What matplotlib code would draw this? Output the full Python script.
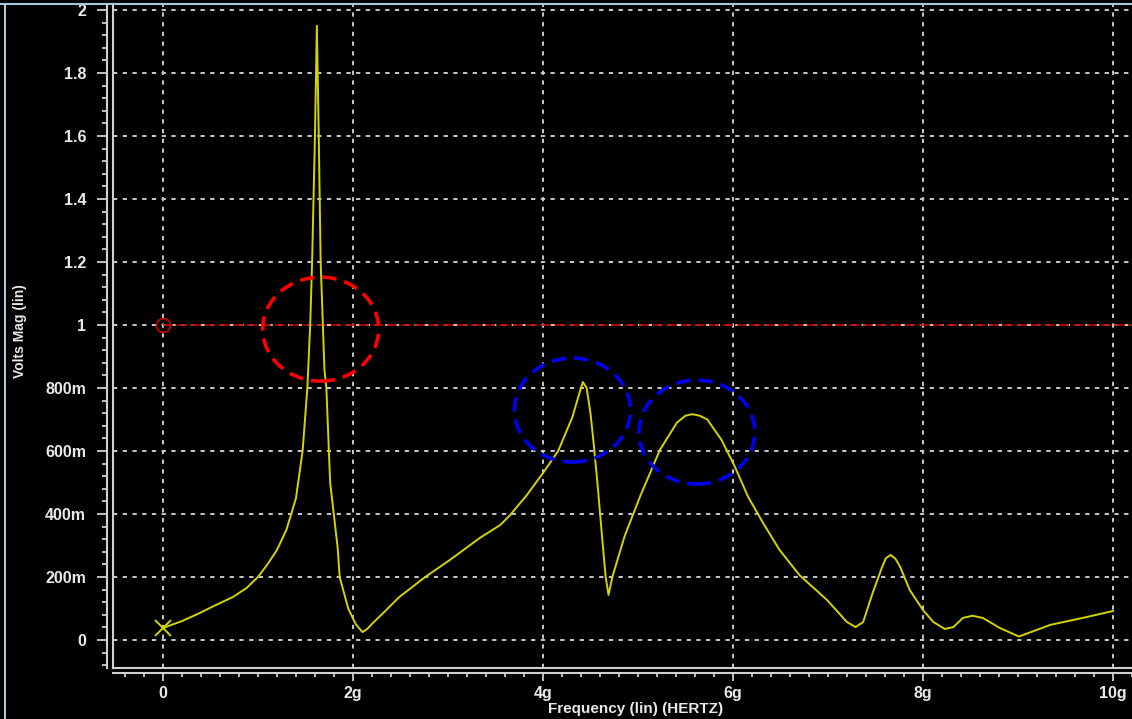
import matplotlib
matplotlib.use("Agg")
import matplotlib.pyplot as plt
from matplotlib.patches import Ellipse
from matplotlib.ticker import MultipleLocator, FixedLocator, FixedFormatter

# AC sweep, magnitude of the output node (frequency in GHz)
freq_ghz = [0.0, 0.2, 0.39, 0.55, 0.74, 0.88, 1.0, 1.1, 1.2, 1.3, 1.4, 1.47, 1.52,
            1.55, 1.57, 1.6, 1.62, 1.64, 1.66, 1.7, 1.72, 1.76, 1.84, 1.86, 1.95,
            2.03, 2.1, 2.15, 2.21, 2.35, 2.49, 2.76, 3.02, 3.34, 3.55, 3.65, 3.83,
            4.0, 4.16, 4.31, 4.37, 4.42, 4.46, 4.5, 4.53, 4.57, 4.63, 4.66, 4.69,
            4.73, 4.86, 5.02, 5.23, 5.41, 5.5, 5.57, 5.65, 5.73, 5.88, 6.02, 6.16,
            6.32, 6.49, 6.7, 6.99, 7.2, 7.29, 7.37, 7.47, 7.57, 7.61, 7.66, 7.71,
            7.76, 7.86, 8.0, 8.11, 8.23, 8.32, 8.42, 8.52, 8.63, 8.81, 9.01, 9.34,
            9.68, 10.0]
volts = [0.038, 0.06, 0.086, 0.11, 0.137, 0.165, 0.2, 0.24, 0.286, 0.35, 0.45, 0.6, 0.8,
         1.0, 1.2, 1.6, 1.95, 1.6, 1.2, 0.857, 0.8, 0.5, 0.29, 0.2, 0.1,
         0.05, 0.025, 0.035, 0.054, 0.095, 0.137, 0.2, 0.254, 0.325, 0.365, 0.395, 0.46,
         0.53, 0.6, 0.708, 0.77, 0.819, 0.80, 0.72, 0.635, 0.51, 0.3, 0.2, 0.143,
         0.2, 0.33, 0.454, 0.603, 0.69, 0.712, 0.717, 0.712, 0.70, 0.635, 0.55, 0.454,
         0.37, 0.286, 0.206, 0.127, 0.057, 0.041, 0.057, 0.149, 0.232, 0.26, 0.27, 0.258,
         0.232, 0.159, 0.095, 0.057, 0.035, 0.041, 0.07, 0.077, 0.07, 0.038, 0.011, 0.048,
         0.07, 0.092]

ref_level = 1.0

x_ticks = [0, 2, 4, 6, 8, 10]
x_labels = ["0", "2g", "4g", "6g", "8g", "10g"]
y_ticks = [0, 0.2, 0.4, 0.6, 0.8, 1.0, 1.2, 1.4, 1.6, 1.8, 2.0]
y_labels = ["0", "200m", "400m", "600m", "800m", "1", "1.2", "1.4", "1.6", "1.8", "2"]

fg = "#d0d0d0"
plt.rcParams["font.family"] = ["Liberation Sans", "DejaVu Sans"]
plt.rcParams["font.weight"] = "bold"

fig = plt.figure(figsize=(11.32, 7.19), dpi=100, facecolor="black")
ax = fig.add_axes([0.0998, 0.0709, 0.9002, 0.9235], facecolor="black")

ax.set_xlim(-0.526, 10.2)
ax.set_ylim(-0.089, 2.019)

ax.grid(True, which="major", color="#c8c8c8", lw=1.4, linestyle=(0, (2.2, 2.8)))
ax.set_axisbelow(True)

# reference level
ax.plot([0, 10.2], [ref_level, ref_level], color="#c00000", lw=1.2,
        linestyle=(0, (6, 2.4)), zorder=3)
ax.plot([0], [ref_level], marker="o", ms=10, mfc="none", mec="#d00000", mew=1.2, zorder=4)

# output magnitude
ax.plot(freq_ghz, volts, color="#d4d400", lw=1.4, zorder=5)
ax.plot([freq_ghz[0]], [volts[0]], marker="x", ms=12, color="#d4d400", mew=1.4, zorder=6)

# highlighted regions
ax.add_patch(Ellipse((1.66, 0.987), 1.22, 0.33, fill=False, ec="#ff0000", lw=2.6,
                     linestyle=(0, (4, 2.2)), zorder=7))
ax.add_patch(Ellipse((4.31, 0.73), 1.22, 0.33, fill=False, ec="#0000ee", lw=2.6,
                     linestyle=(0, (4, 2.2)), zorder=7))
ax.add_patch(Ellipse((5.62, 0.66), 1.22, 0.33, fill=False, ec="#0000ee", lw=2.6,
                     linestyle=(0, (4, 2.2)), zorder=7))

# rulers sit slightly outside the plot frame
for side in ["top", "right"]:
    ax.spines[side].set_visible(False)
ax.spines["left"].set_position(("outward", 4.3))
ax.spines["bottom"].set_position(("outward", 3.6))
for side in ["left", "bottom"]:
    ax.spines[side].set_color(fg)
    ax.spines[side].set_linewidth(1.5)
ax.plot([0, 0], [0, 1], transform=ax.transAxes, color=fg, lw=1.5, clip_on=False, zorder=8)
ax.plot([0, 1], [0, 0], transform=ax.transAxes, color=fg, lw=1.5, clip_on=False, zorder=8)

ax.xaxis.set_major_locator(FixedLocator(x_ticks))
ax.xaxis.set_major_formatter(FixedFormatter(x_labels))
ax.xaxis.set_minor_locator(MultipleLocator(0.2))
ax.yaxis.set_major_locator(FixedLocator(y_ticks))
ax.yaxis.set_major_formatter(FixedFormatter(y_labels))
ax.yaxis.set_minor_locator(MultipleLocator(0.04))

ax.tick_params(axis="y", which="major", length=7, width=1.3, color=fg, labelcolor="#e8e8e8",
               labelsize=11.5, pad=8)
ax.tick_params(axis="y", which="minor", length=3.5, width=1.3, color=fg)
ax.tick_params(axis="x", which="major", length=6, width=1.3, color=fg, labelcolor="#e8e8e8",
               labelsize=11.5, pad=3)
ax.tick_params(axis="x", which="minor", length=3, width=1.3, color=fg)
for lab in ax.get_xticklabels() + ax.get_yticklabels():
    lab.set_fontweight("bold")

ax.set_xlabel("Frequency (lin) (HERTZ)", color="#e8e8e8", fontsize=11, fontweight="bold")
ax.xaxis.set_label_coords(0.513, -0.051)
ax.set_ylabel("Volts Mag (lin)", color="#e8e8e8", fontsize=10, fontweight="bold")
ax.yaxis.set_label_coords(-0.084, 0.507)

# window frame
fig.add_artist(plt.Line2D([0, 1], [0.9944, 0.9944], color="#a8c8e0", lw=1.5))
fig.add_artist(plt.Line2D([0.0048, 0.0048], [0, 0.9944], color="#a8c8e0", lw=1.5))

fig.savefig("out.png", dpi=100, facecolor="black")
